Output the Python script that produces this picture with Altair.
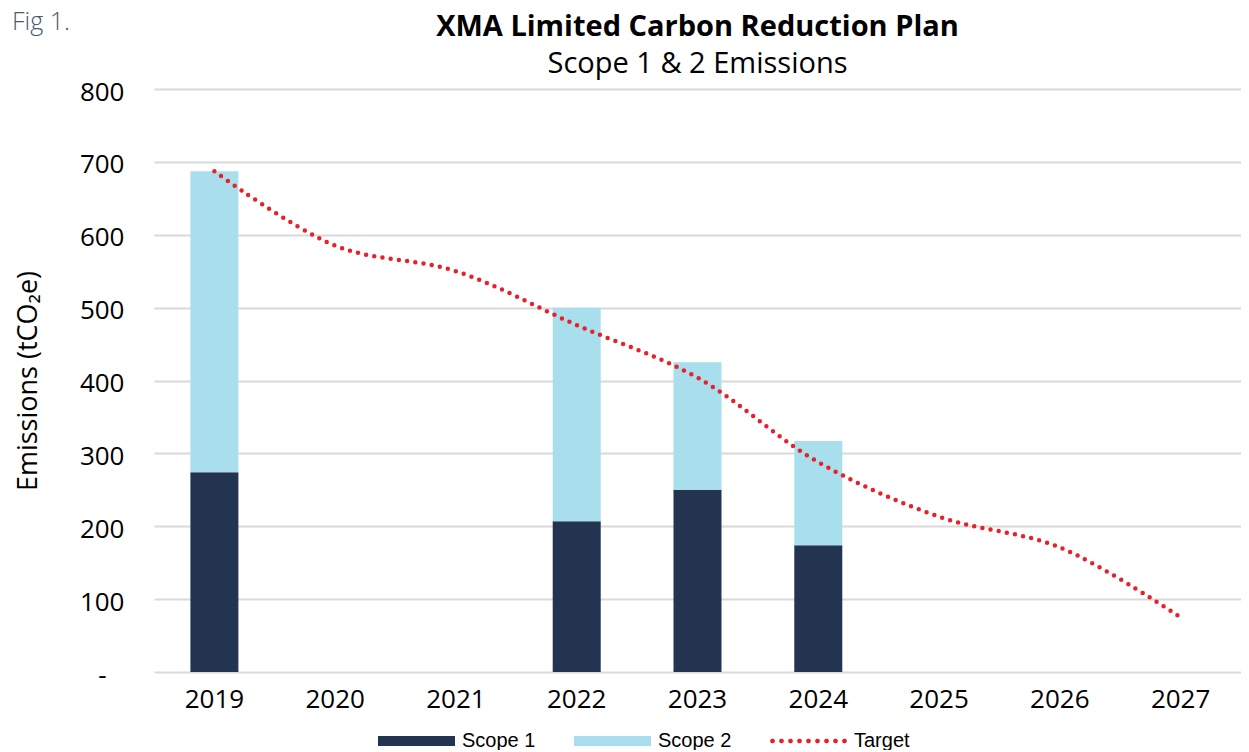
import altair as alt
import pandas as pd
import math

# ---- data ----
years = ["2019", "2020", "2021", "2022", "2023", "2024", "2025", "2026", "2027"]
bar_years = ["2019", "2022", "2023", "2024"]
scope1 = [274, 207, 250, 174]
scope2 = [413, 293, 175, 143]
target = [687, 585, 550, 476, 404, 288, 213, 171, 75]
series_names = ["Scope 1", "Scope 2", "Target"]
series_colors = ["#223450", "#a9deed", "#e8202a"]
y_ticks = [0, 100, 200, 300, 400, 500, 600, 700, 800]
fig_label = ["Fig 1."]
title_text = "XMA Limited Carbon Reduction Plan"
subtitle_text = "Scope 1 & 2 Emissions"
y_title = "Emissions (tCO₂e)"

bars_df = pd.DataFrame({
    "year": bar_years + bar_years,
    "series": [series_names[0]] * len(bar_years) + [series_names[1]] * len(bar_years),
    "value": scope1 + scope2,
    "order": [0] * len(bar_years) + [1] * len(bar_years),
})
target_df = pd.DataFrame({"year": years, "value": target})
legend_df = pd.DataFrame({"series": series_names})
fig_df = pd.DataFrame({"label": fig_label})

# ---- legend symbol shapes (unit coords, scaled by sqrt(size)/2) ----
unit = 38.5
rect_path = "M-1,-0.13H1V0.13H-1Z"
dot_parts = []
for i in range(9):
    cx = (-36 + 9 * i) / unit
    r = 2.4 / unit
    pts = []
    for k in range(10):
        a = 2 * math.pi * k / 10
        pts.append(f"{cx + r * math.cos(a):.4f},{r * math.sin(a):.4f}")
    dot_parts.append("M" + "L".join(pts) + "Z")
dots_path = "".join(dot_parts)

color_scale = alt.Scale(domain=series_names, range=series_colors)
shape_scale = alt.Scale(domain=series_names, range=[rect_path, rect_path, dots_path])


def make_legend():
    return alt.Legend(
        title=None, orient="none", legendX=224, legendY=642, direction="horizontal",
        symbolSize=5929, clipHeight=20, labelFont="Liberation Sans", labelFontSize=20,
        labelColor="black", labelOffset=7, columnPadding=38, symbolOpacity=1,
        symbolStrokeWidth=0,
    )


x_enc = alt.X(
    "year:O",
    scale=alt.Scale(domain=years, paddingInner=0, paddingOuter=0),
    axis=alt.Axis(title=None, grid=False, domain=False, ticks=False, labelAngle=0,
                  labelFont="Open Sans", labelFontSize=26, labelColor="black",
                  labelPadding=14),
)
y_scale = alt.Scale(domain=[0, 800], nice=False)

bars = alt.Chart(bars_df).mark_bar(size=48).encode(
    x=x_enc,
    y=alt.Y(
        "value:Q", stack="zero", scale=y_scale,
        axis=alt.Axis(
            values=y_ticks, title=y_title, grid=True, gridColor="#d9d9d9",
            gridWidth=2, domain=False, ticks=False, labelFont="Open Sans",
            labelFontSize=26, labelColor="black", labelOffset=3,
            labelPadding={"condition": {"test": "datum.value === 0", "value": 48}, "value": 30},
            labelExpr="datum.value === 0 ? '-' : format(datum.value, 'd')",
            titleFont="Open Sans", titleFontSize=27, titleFontWeight="normal",
            titleColor="black", titlePadding=37,
        ),
    ),
    color=alt.Color("series:N", scale=color_scale, legend=make_legend()),
    order=alt.Order("order:Q"),
)

line = alt.Chart(target_df).mark_line(
    color=series_colors[2], strokeWidth=4.5, strokeDash=[0, 8.3], strokeCap="round",
    interpolate="catmull-rom",
).encode(
    x=alt.X("year:O"),
    y=alt.Y("value:Q"),
)

legend_layer = alt.Chart(legend_df).mark_point(filled=True, opacity=0).encode(
    color=alt.Color("series:N", scale=color_scale, legend=make_legend()),
    shape=alt.Shape("series:N", scale=shape_scale, legend=make_legend()),
)

fig_text = alt.Chart(fig_df).mark_text(
    align="left", baseline="alphabetic", font="Open Sans", fontSize=25, fontWeight=300,
    color="#4a5a70",
).encode(
    text="label:N",
    x=alt.value(-142),
    y=alt.value(-59),
)

chart = alt.layer(bars, line, legend_layer, fig_text).properties(
    width=1087,
    height=583,
    title=alt.TitleParams(
        text=title_text,
        subtitle=subtitle_text,
        font="Open Sans", fontSize=29, fontWeight="bold", color="black",
        subtitleFont="Open Sans", subtitleFontSize=29, subtitleColor="black",
        anchor="middle", offset=-69, subtitlePadding=8,
    ),
    autosize=alt.AutoSizeParams(type="none"),
    padding={"left": 146, "top": 81, "right": 0, "bottom": 78},
).configure_view(stroke=None)

chart.save("out.html", embed_options={"renderer": "svg", "actions": False})
